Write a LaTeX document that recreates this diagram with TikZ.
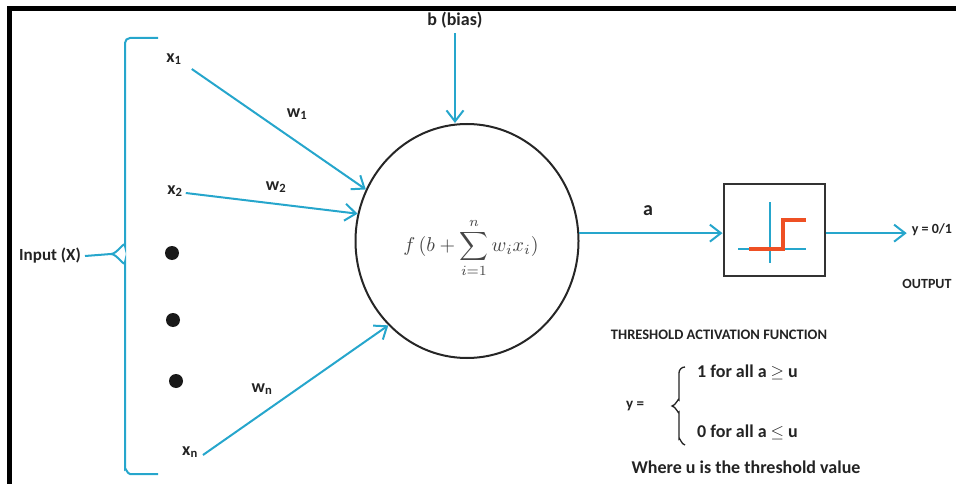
\documentclass[tikz,border=0pt]{standalone}
\usepackage{graphicx}
\usepackage{fontspec}
\setmainfont{Carlito}
\usetikzlibrary{arrows.meta,shapes.geometric}
\definecolor{cyanline}{RGB}{38,166,204}
\definecolor{stepred}{RGB}{238,80,36}
\definecolor{txt}{RGB}{35,35,35}
\definecolor{formula}{RGB}{70,70,70}
\tikzset{
  lbl/.style={font=\bfseries\fontsize{18}{20}\selectfont, text=txt, inner sep=2pt},
  small/.style={font=\bfseries\fontsize{14}{16}\selectfont, text=txt, inner sep=1pt},
  arr/.style={draw=cyanline, line width=2pt, -{Straight Barb[length=11pt,width=17pt,line width=2pt]}},
  cyanbrace/.style={draw=cyanline, line width=2pt},
  dotnode/.style={circle, fill=black!90, minimum size=14pt, inner sep=0pt},
}
\newcommand{\subsc}[1]{\textsubscript{#1}}
\begin{document}
\begin{tikzpicture}[x=1pt,y=-1pt]
\useasboundingbox (0,0) rectangle (956,484);
% frame
\draw[line width=5pt] (9.5,484) -- (9.5,8.5) -- (956,8.5);

% neuron
\node[ellipse, draw=black!85, line width=2pt, minimum width=223pt, minimum height=234pt, inner sep=0pt] (neuron) at (467,241) {};
\node[text=formula, inner sep=0pt] (formula) at (471,248) {\scalebox{2.0}{$\displaystyle f\,(b+\sum_{i=1}^{n} w_i x_i)$}};

% bias
\node[lbl] (bias) at (455,20) {b (bias)};
\draw[arr] ([yshift=-3pt]bias.south) -- (bias.south |- neuron.north);

% inputs
\node[lbl] (x1) at (174,59) {x\subsc{1}};
\node[lbl] (x2) at (175,191) {x\subsc{2}};
\node[lbl] (xn) at (190,452) {x\subsc{n}};
\node[dotnode] (d1) at (172,253) {};
\node[dotnode] (d2) at (173,320) {};
\node[dotnode] (d3) at (176,381) {};

\node[lbl] (w1) at (297,114) {w\subsc{1}};
\node[lbl] (w2) at (276,187) {w\subsc{2}};
\node[lbl] (wn) at (262,389) {w\subsc{n}};

\draw[arr] ([shift={(8,10)}]x1.east) -- (neuron.153);
\draw[arr] ([shift={(1,2)}]x2.east) -- (neuron.166);
\draw[arr] ([shift={(3,3)}]xn.east) -- (neuron.227);

% input brace
\node[lbl, font=\bfseries\fontsize{17}{19}\selectfont] (inp) at (50,256) {Input (X)};
\coordinate (cusp) at (111,254);
\draw[cyanbrace] (158,38) -- (130,38) to[out=180,in=90] (125,43) -- (125,246)
  to[out=90,in=0] (cusp) to[out=0,in=-90] (125,262) -- (125,469)
  to[out=90,in=180] (130,474) -- (158,474);
\draw[cyanbrace] ([xshift=2pt]inp.east) -- (cusp);

% activation box
\node[draw=black!80, line width=2pt, minimum width=101pt, minimum height=92pt, inner sep=0pt] (box) at (774,230) {};
\draw[draw=cyanline, line width=1.4pt] (770,202) -- (770,263);
\draw[draw=cyanline, line width=1.4pt] (738,249) -- (806,249);
\draw[draw=stepred, line width=3.2pt] (749,249) -- (783,249) -- (783,220) -- (806,220);

\node[lbl, font=\bfseries\fontsize{20}{22}\selectfont] (a) at (648,211) {a};
\draw[arr] (neuron.4) -- (box.west |- neuron.4);

\node[small] (yout) at (932,230) {y = 0/1};
\draw[arr] (box.east |- neuron.4) -- ([xshift=-4pt]yout.west |- neuron.4);
\node[small] (outp) at (927,284) {OUTPUT};

% threshold description
\node[small, font=\bfseries\fontsize{14.5}{16}\selectfont] (thr) at (719,335) {THRESHOLD ACTIVATION FUNCTION};
\node[small, font=\bfseries\fontsize{15}{16}\selectfont] (yeq) at (635,406) {y =};
\draw[line width=1.3pt, draw=txt] (685,367) to[out=180,in=90] (679,373) -- (679,400)
  to[out=90,in=0] (672,406) to[out=0,in=-90] (679,412) -- (679,439)
  to[out=90,in=180] (685,445);
\node[lbl, anchor=west, inner sep=0pt] (c1) at (697,372) {1 for all a $\geq$ u};
\node[lbl, anchor=west, inner sep=0pt] (c0) at (697,432) {0 for all a $\leq$ u};
\node[lbl] (where) at (746,467) {Where u is the threshold value};
\end{tikzpicture}
\end{document}
